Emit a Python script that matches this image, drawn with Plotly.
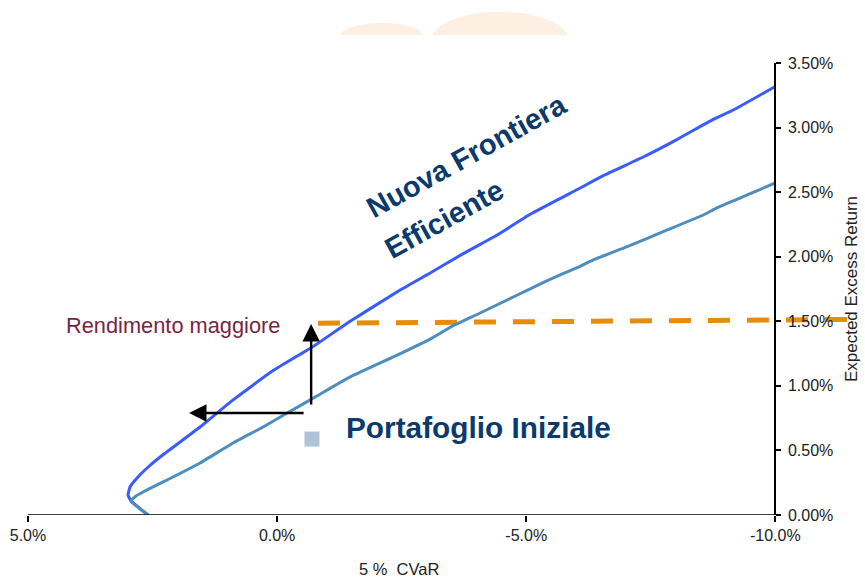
import plotly.graph_objects as go

# ---------------- data (values in %) ----------------
new_frontier_cvar = [2.590, 2.932, 2.992, 2.952, 2.811, 2.610, 2.349, 1.546, 0.884, 0.080,
                     -0.723, -1.466, -2.470, -3.072, -3.735, -4.418, -5.080, -6.084,
                     -6.546, -7.349, -8.032, -8.755, -9.157, -10.0]
new_frontier_ret = [0.000, 0.108, 0.155, 0.217, 0.287, 0.364, 0.449, 0.681, 0.891, 1.118,
                    1.305, 1.500, 1.742, 1.874, 2.024, 2.168, 2.329, 2.532,
                    2.628, 2.772, 2.909, 3.064, 3.136, 3.318]

old_frontier_cvar = [2.590, 2.932, 2.831, 2.691, 2.450, 2.209, 1.546, 0.884, 0.281, -0.201,
                     -0.723, -1.466, -2.410, -3.072, -3.534, -4.076, -4.739, -5.422,
                     -6.084, -6.345, -7.028, -7.831, -8.554, -8.835, -9.438, -10.0]
old_frontier_ret = [0.000, 0.108, 0.147, 0.178, 0.225, 0.271, 0.403, 0.558, 0.681, 0.790,
                    0.904, 1.069, 1.238, 1.362, 1.466, 1.564, 1.688, 1.815,
                    1.926, 1.975, 2.078, 2.207, 2.323, 2.380, 2.478, 2.571]

target_cvar = [-0.82, -11.7]
target_ret = [1.485, 1.515]

initial_cvar = [-0.70]
initial_ret = [0.588]

x_tick_vals = [5, 0, -5, -10]
x_tick_labels = ["5.0%", "0.0%", "-5.0%", "-10.0%"]
y_tick_vals = [0, 0.5, 1.0, 1.5, 2.0, 2.5, 3.0, 3.5]
y_tick_labels = ["0.00%", "0.50%", "1.00%", "1.50%", "2.00%", "2.50%", "3.00%", "3.50%"]

FONT = "Arial, 'Liberation Sans', sans-serif"
NAVY = "#0b3a6c"
MAROON = "#7a2444"
TXT = "#222222"

fig = go.Figure()

fig.add_trace(go.Scatter(x=target_cvar, y=target_ret, mode="lines",
                         line=dict(color="#e58e0c", width=5, dash="22px,17px"),
                         hoverinfo="skip", showlegend=False))
fig.add_trace(go.Scatter(x=new_frontier_cvar, y=new_frontier_ret, mode="lines",
                         line=dict(color="#3a5cff", width=3, shape="spline", smoothing=0.4),
                         showlegend=False))
fig.add_trace(go.Scatter(x=old_frontier_cvar, y=old_frontier_ret, mode="lines",
                         line=dict(color="#4f8dbd", width=3, shape="spline", smoothing=0.4),
                         showlegend=False))
fig.add_trace(go.Scatter(x=initial_cvar, y=initial_ret, mode="markers",
                         marker=dict(symbol="square", size=15, color="#aec3d6"),
                         showlegend=False))

# x-axis line (only up to the y-axis at -10%)
fig.add_shape(type="line", xref="x", yref="y", x0=x_tick_vals[0], x1=x_tick_vals[-1],
              y0=0, y1=0, line=dict(color="black", width=1.5))

# faint watermark blobs at the top
fig.add_shape(type="path", xref="paper", yref="paper", layer="below",
              path="M 0.3728,1.0619 C 0.382,1.0973 0.4627,1.0973 0.4719,1.0619 Z",
              fillcolor="#fdefe2", line=dict(width=0))
fig.add_shape(type="path", xref="paper", yref="paper", layer="below",
              path="M 0.4839,1.0619 C 0.4999,1.1298 0.6280,1.1298 0.6440,1.0619 Z",
              fillcolor="#fdefe2", line=dict(width=0))

# arrows
fig.add_annotation(x=-0.683, y=1.479, ax=-0.683, ay=0.844, xref="x", yref="y",
                   axref="x", ayref="y", text="", showarrow=True, arrowhead=2,
                   arrowsize=1.45, arrowwidth=2.4, arrowcolor="black", standoff=0)
fig.add_annotation(x=1.767, y=0.790, ax=-0.562, ay=0.790, xref="x", yref="y",
                   axref="x", ayref="y", text="", showarrow=True, arrowhead=2,
                   arrowsize=1.45, arrowwidth=2.4, arrowcolor="black", standoff=0)

# texts
fig.add_annotation(x=-3.80, y=2.78, xref="x", yref="y", text="<b>Nuova Frontiera</b>",
                   showarrow=False, textangle=-29, xanchor="center", yanchor="middle",
                   font=dict(family=FONT, size=29, color=NAVY))
fig.add_annotation(x=-3.36, y=2.29, xref="x", yref="y", text="<b>Efficiente</b>",
                   showarrow=False, textangle=-29, xanchor="center", yanchor="middle",
                   font=dict(family=FONT, size=29, color=NAVY))
fig.add_annotation(x=-1.35, y=0.68, xref="x", yref="y", text="<b>Portafoglio Iniziale</b>",
                   showarrow=False, xanchor="left", yanchor="middle",
                   font=dict(family=FONT, size=29.8, color=NAVY))
fig.add_annotation(x=-0.10, y=1.467, xref="x", yref="y", text="Rendimento maggiore",
                   showarrow=False, xanchor="right", yanchor="middle",
                   font=dict(family=FONT, size=21.8, color=MAROON))
fig.add_annotation(x=5.06, y=0.809, xref="x", yref="y", text="Rischio minore",
                   showarrow=False, xanchor="left", yanchor="middle",
                   font=dict(family=FONT, size=21.8, color=MAROON))

# x-axis title, centred under the -10%..5% span
fig.add_annotation(x=-2.45, y=-0.1195, xref="x", yref="paper", text="5\u00a0%\u00a0\u00a0CVaR",
                   showarrow=False, xanchor="center", yanchor="middle",
                   font=dict(family=FONT, size=16.5, color=TXT))

fig.update_layout(
    width=865, height=577,
    margin=dict(l=28, r=0, t=63, b=62),
    paper_bgcolor="white", plot_bgcolor="white",
    font=dict(family=FONT, size=16, color=TXT),
    showlegend=False,
    xaxis=dict(range=[5, -11.8], showgrid=False, zeroline=False, showline=False,
               tickvals=x_tick_vals, ticktext=x_tick_labels,
               ticks="outside", ticklen=6, tickcolor="black", tickwidth=1.5,
               tickfont=dict(size=16, color=TXT)),
    yaxis=dict(range=[0, 3.5], showgrid=False, zeroline=False, showline=True,
               linecolor="black", linewidth=1.5, anchor="free", position=747 / 837,
               side="right", tickvals=y_tick_vals, ticktext=y_tick_labels,
               ticks="outside", ticklen=5, tickcolor="black", tickwidth=1.5,
               ticklabelstandoff=4,
               tickfont=dict(size=16, color=TXT),
               title=dict(text="Expected Excess Return", font=dict(size=17, color=TXT),
                          standoff=12)),
)

fig.write_html("out.html")
